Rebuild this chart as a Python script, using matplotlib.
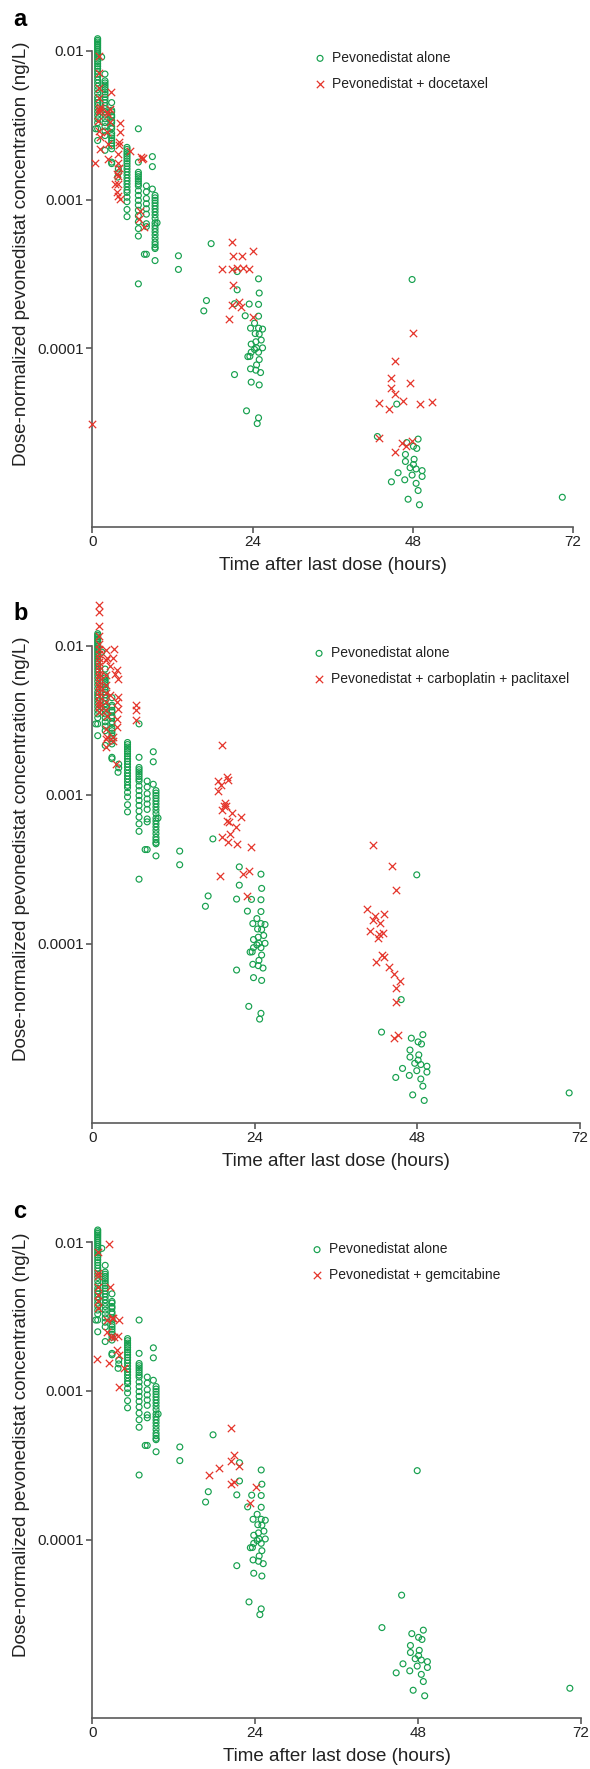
import numpy as np
import matplotlib
matplotlib.use("Agg")
import matplotlib.pyplot as plt

plt.rcParams['font.family'] = ['Liberation Sans', 'DejaVu Sans']

GREEN = '#16a04e'
RED = '#e5352b'
AXIS = '#5a5a5a'

# ---- Pevonedistat alone (same data in every panel) ----
# dense sampling columns: time (h) and the concentrations stacked at that time
alone_col_t = [0.8, 1.9, 2.9, 5.2, 6.9, 8.1, 9.4]
alone_col_c = [
    [0.0121, 0.0118, 0.0115, 0.0112, 0.0109, 0.0106, 0.0103, 0.0100, 0.0097,
     0.0094, 0.0091, 0.0088, 0.0085, 0.0082, 0.0079, 0.0076, 0.0073, 0.0070,
     0.0067, 0.0064, 0.0061, 0.0058, 0.0055, 0.0052, 0.0049, 0.0047, 0.0045,
     0.0043, 0.0041, 0.0039, 0.0037, 0.0035, 0.0033, 0.0030, 0.0025],
    [0.0070, 0.0063, 0.0061, 0.0059, 0.0057, 0.0055, 0.0053, 0.0051, 0.0049,
     0.0047, 0.0045, 0.0043, 0.0041, 0.0039, 0.0037, 0.0035, 0.0033, 0.0031,
     0.0029, 0.0027, 0.00215],
    [0.0045, 0.0040, 0.0039, 0.0037, 0.0036, 0.0034, 0.0033, 0.0031, 0.0030,
     0.0028, 0.0027, 0.0026, 0.0025, 0.0024, 0.0023, 0.0022, 0.00179, 0.00175],
    [0.00225, 0.00218, 0.0021, 0.00203, 0.00196, 0.00189, 0.00182, 0.00175,
     0.00168, 0.00161, 0.00154, 0.00147, 0.0014, 0.00134, 0.00128, 0.00122,
     0.00116, 0.00112, 0.00104, 0.00097, 0.00086, 0.00077],
    [0.0030, 0.00179, 0.00153, 0.00148, 0.00143, 0.00138, 0.00133, 0.00128,
     0.00124, 0.00115, 0.00107, 0.00099, 0.00092, 0.00085, 0.00078, 0.00071,
     0.00064, 0.00057, 0.000272],
    [0.00124, 0.00113, 0.00102, 0.00094, 0.00087, 0.0008, 0.00069, 0.00066,
     0.00043],
    [0.00107, 0.00103, 0.00099, 0.00095, 0.00091, 0.00087, 0.00083, 0.00079,
     0.00075, 0.0007, 0.00067, 0.00064, 0.00061, 0.00058, 0.00055, 0.00052,
     0.0005, 0.00048, 0.00047, 0.00039],
]
alone_extra_t = [1.4, 0.5, 3.9, 3.9, 3.8, 9.0, 9.0, 9.0, 9.7, 7.8,
                 12.9, 12.9, 17.8, 17.1, 16.7, 21.7, 21.7, 21.3, 21.3,
                 24.9, 25.0, 23.5, 24.9, 22.9, 24.9, 24.3, 23.7, 24.9, 25.5,
                 24.4, 25.0, 25.3, 24.5, 23.8, 25.5, 24.6, 24.3, 24.9, 23.8,
                 23.3, 23.6, 25.0, 24.6, 23.7, 24.5, 25.2, 23.8, 25.0, 23.1,
                 24.9, 24.7,
                 47.9, 45.6, 42.7, 47.1, 48.8, 48.1, 48.6, 46.9, 48.2, 46.9,
                 47.6, 48.1, 48.5, 49.4, 45.8, 47.9, 49.4, 46.8, 44.8, 48.5,
                 48.8, 47.3, 49.0, 70.4]
alone_extra_c = [0.0091, 0.0030, 0.00161, 0.00152, 0.00142, 0.00195, 0.00167,
                 0.00118, 0.00070, 0.00043,
                 0.00042, 0.00034, 0.000507, 0.00021, 0.000179, 0.000329,
                 0.000248, 0.0002, 0.0000668,
                 0.000294, 0.000236, 0.000199, 0.000198, 0.000166, 0.000165,
                 0.000148, 0.000137, 0.000137, 0.000135, 0.000126, 0.000125,
                 0.000114, 0.000111, 0.000107, 0.000101, 0.000101, 0.0000985,
                 0.0000944, 0.0000944, 0.0000882, 0.0000885, 0.0000842,
                 0.0000776, 0.000073, 0.0000715, 0.0000689, 0.0000594,
                 0.0000569, 0.0000381, 0.0000342, 0.0000313,
                 0.000291, 0.0000423, 0.0000256, 0.0000233, 0.0000246,
                 0.000022, 0.0000213, 0.0000194, 0.000018, 0.0000174,
                 0.0000158, 0.0000166, 0.0000155, 0.0000151, 0.0000146,
                 0.0000141, 0.0000138, 0.0000131, 0.0000127, 0.0000124,
                 0.0000111, 0.0000097, 0.0000089, 0.00001]

# ---- Pevonedistat + docetaxel ----
doce_t = [0.0, 0.4, 1.0, 1.0, 1.0, 1.0, 1.0, 1.1, 1.2, 1.0, 0.9, 1.0, 1.2, 1.1,
          2.2, 2.15, 2.4, 2.6, 2.75, 2.6, 2.4, 2.4,
          4.1, 4.1, 4.0, 4.0, 3.9, 3.8, 4.0, 3.7, 3.8, 3.4, 3.9, 3.7, 3.9, 4.2,
          5.6, 7.3, 7.6, 7.5, 7.1, 7.0, 7.7,
          20.9, 24.0, 21.0, 22.4, 19.4, 20.9, 21.7, 22.5, 23.4, 21.0, 20.9,
          21.9, 22.3, 20.5, 24.1,
          48.0, 45.4, 44.7, 47.6, 44.7, 45.4, 46.6, 43.0, 44.4, 49.1, 50.9,
          42.9, 46.4, 47.9, 47.0, 45.4]
doce_c = [3.1e-5, 0.00177, 0.0093, 0.0071, 0.0056, 0.0048, 0.0041, 0.0042,
          0.0040, 0.0039, 0.0034, 0.00292, 0.00264, 0.0022,
          0.00285, 0.0039, 0.0038, 0.0041, 0.0053, 0.00333, 0.00238, 0.00188,
          0.0033, 0.00285, 0.00244, 0.00232, 0.00204, 0.00177, 0.00164,
          0.00149, 0.00145, 0.00128, 0.00128, 0.00112, 0.00106, 0.00101,
          0.00214, 0.00193, 0.00190, 0.00188, 0.00084, 0.00074, 0.00066,
          0.000523, 0.000452, 0.000419, 0.000419, 0.00034, 0.00034, 0.000346,
          0.000346, 0.00034, 0.000269, 0.000197, 0.000205, 0.000189,
          0.000158, 0.000164,
          0.000127, 0.0000826, 0.000063, 0.0000589, 0.000054, 0.0000494,
          0.0000446, 0.0000432, 0.0000389, 0.0000421, 0.0000434, 0.0000251,
          0.0000232, 0.0000239, 0.0000221, 0.00002]

# ---- Pevonedistat + carboplatin + paclitaxel ----
carbo_t = [1.0] * 22 + [2.0] * 10 + [3.2, 3.0, 3.6, 3.3, 3.8, 3.8, 3.6, 3.8,
                                      3.7, 3.7, 3.1, 3.1, 3.5, 2.6, 2.6, 2.2,
                                      2.2, 2.2] + \
          [6.4, 6.5, 6.4,
           19.1, 18.6, 19.0, 18.5, 19.9, 20.0, 19.6, 19.4, 19.8, 19.1, 20.6,
           19.9, 20.2, 21.2, 21.9, 20.3, 19.1, 20.1, 21.4, 23.4, 18.8, 22.3,
           23.1, 22.8,
           41.4, 44.2, 44.9, 40.5, 41.7, 43.0, 41.5, 42.4, 41.0, 42.3, 42.9,
           42.2, 42.8, 43.1, 41.9, 43.8, 44.6, 45.5, 44.8, 44.8, 44.5, 45.1]
carbo_c = [0.0189, 0.0170, 0.0136, 0.0116, 0.0103, 0.0095, 0.0089, 0.0083,
           0.0078, 0.0073, 0.0069, 0.0065, 0.0062, 0.0058, 0.0055, 0.0052,
           0.0049, 0.0046, 0.0043, 0.0041, 0.0039, 0.0036,
           0.0094, 0.0080, 0.0064, 0.0055, 0.0048, 0.0042, 0.0037, 0.00278,
           0.00239, 0.0021,
           0.0095, 0.0083, 0.0069, 0.0065, 0.0060, 0.00455, 0.0042, 0.0038,
           0.00325, 0.00286, 0.00245, 0.0023, 0.00162, 0.0073, 0.0047, 0.0083,
           0.0034, 0.00245,
           0.0040, 0.0037, 0.00317,
           0.00218, 0.00125, 0.00117, 0.00107, 0.00131, 0.00127, 0.00089,
           0.00084, 0.00084, 0.00079, 0.00076, 0.00067, 0.00066, 0.00061,
           0.00071, 0.00055, 0.00052, 0.00048, 0.00047, 0.00045, 0.000288,
           0.000297, 0.00031, 0.00021,
           0.000462, 0.000334, 0.000229, 0.000172, 0.000155, 0.000158,
           0.000144, 0.000139, 0.000122, 0.000116, 0.000119, 0.00011,
           0.0000838, 0.0000815, 0.0000751, 0.0000699, 0.0000627, 0.000056,
           0.0000505, 0.0000406, 0.0000234, 0.0000245]

# ---- Pevonedistat + gemcitabine ----
gem_t = [0.8, 2.45, 0.8, 0.8, 0.8, 0.8, 0.8, 0.8, 2.6, 2.1, 2.9, 3.1, 4.0, 2.1,
         2.8, 3.2, 3.8, 0.7, 2.45, 3.6, 4.0, 4.6, 3.9,
         20.4, 20.9, 20.5, 21.7, 18.7, 17.2, 20.4, 20.9, 24.1, 23.3]
gem_c = [0.00866, 0.0097, 0.0062, 0.0059, 0.0050, 0.00443, 0.0040, 0.0036,
         0.0050, 0.0030, 0.0031, 0.0031, 0.0030, 0.0025, 0.00232, 0.00232,
         0.00235, 0.00164, 0.00154, 0.0019, 0.00175, 0.00142, 0.00107,
         0.00056, 0.000372, 0.000336, 0.000311, 0.000303, 0.000274, 0.000238,
         0.000245, 0.000226, 0.000175]

combo_labels = ['Pevonedistat + docetaxel',
                'Pevonedistat + carboplatin + paclitaxel',
                'Pevonedistat + gemcitabine']
combo_t = [doce_t, carbo_t, gem_t]
combo_c = [doce_c, carbo_c, gem_c]
panel_letters = ['a', 'b', 'c']

alone_t = np.concatenate([np.full(len(c), t) for t, c in zip(alone_col_t, alone_col_c)]
                         + [np.array(alone_extra_t)])
alone_c = np.concatenate([np.array(c) for c in alone_col_c] + [np.array(alone_extra_c)])

W, H = 590, 1769
fig = plt.figure(figsize=(W / 100, H / 100), dpi=100)

# axes boxes in pixels: left, right, top(0.01 line), bottom(x axis)
boxes = [(92.3, 573.0, 51.0, 527.0),
         (92.3, 580.0, 646.0, 1122.7),
         (92.3, 580.7, 1242.3, 1718.0)]
letter_y = [19, 614, 1211]
legend_x = [314.5, 313.5, 311.5]

for i in range(3):
    l, r, t, b = boxes[i]
    ax = fig.add_axes([l / W, 1 - b / H, (r - l) / W, (b - t) / H])
    ax.scatter(alone_t, alone_c, s=18, facecolors='none', edgecolors=GREEN,
               linewidths=0.85, clip_on=False, label='Pevonedistat alone', zorder=2)
    ax.scatter(combo_t[i], combo_c[i], s=28, marker='x', color=RED,
               linewidths=0.9, clip_on=False, label=combo_labels[i], zorder=3)
    ax.set_yscale('log')
    ax.set_ylim(10 ** -5.2, 0.01)
    ax.set_xlim(0, 72)
    ax.set_xticks([0, 24, 48, 72])
    ax.set_yticks([0.01, 0.001, 0.0001])
    ax.set_yticklabels(['0.01', '0.001', '0.0001'])
    ax.yaxis.set_minor_locator(matplotlib.ticker.NullLocator())
    for side in ['top', 'right']:
        ax.spines[side].set_visible(False)
    for side in ['left', 'bottom']:
        ax.spines[side].set_color(AXIS)
        ax.spines[side].set_linewidth(1.2)
    ax.tick_params(axis='both', length=4, width=1.2, color=AXIS, pad=2,
                   labelsize=11, labelcolor='#222222')
    ax.set_xlabel('Time after last dose (hours)', fontsize=13.5, color='#222222')
    ax.xaxis.set_label_coords(0.5, -30 / (b - t))
    ax.set_ylabel('Dose-normalized pevonedistat concentration (ng/L)',
                  fontsize=13.5, color='#222222')
    ax.yaxis.set_label_coords((30 - l) / (r - l), 0.575)
    leg = ax.legend(loc='upper left', frameon=False, fontsize=10,
                    bbox_to_anchor=((legend_x[i] - l) / (r - l), 1),
                    borderpad=0, borderaxespad=0, handlelength=0.8,
                    handletextpad=0.45, labelspacing=0.85)
    for txt in leg.get_texts():
        txt.set_color('#222222')
    fig.text(13 / W, 1 - letter_y[i] / H, panel_letters[i], fontsize=17,
             fontweight='bold', va='center', ha='left')

fig.savefig('out.png', dpi=100)
